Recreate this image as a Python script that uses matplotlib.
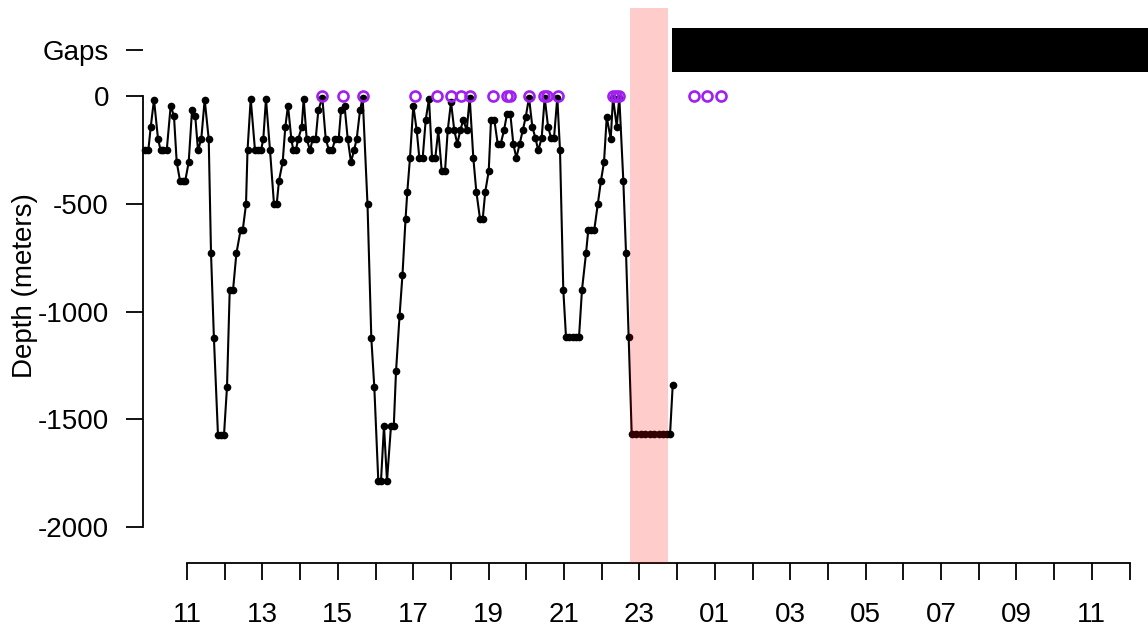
import matplotlib
matplotlib.use("Agg")
import matplotlib.pyplot as plt
from matplotlib.ticker import FixedLocator

plt.rcParams['font.family'] = ['Liberation Sans', 'DejaVu Sans']

# ---- data (hours since midnight of first day; >24 = next day) ----
time_h = [9.886, 9.974, 10.037, 10.125, 10.231, 10.302, 10.371, 10.462, 10.568, 10.655,
          10.727, 10.814, 10.886, 10.955, 11.045, 11.133, 11.22, 11.292, 11.379, 11.469,
          11.576, 11.637, 11.714, 11.822, 11.902, 11.981, 12.061, 12.133, 12.22, 12.31,
          12.424, 12.48, 12.565, 12.605, 12.69, 12.804, 12.875, 12.963, 13.024, 13.095,
          13.202, 13.308, 13.379, 13.44, 13.538, 13.607, 13.679, 13.767, 13.82, 13.883,
          13.952, 14.042, 14.095, 14.175, 14.263, 14.334, 14.414, 14.483, 14.589, 14.679,
          14.767, 14.846, 14.934, 15.024, 15.085, 15.178, 15.263, 15.35, 15.43, 15.501,
          15.589, 15.66, 15.788, 15.889, 15.968, 16.074, 16.146, 16.225, 16.305, 16.411,
          16.485, 16.544, 16.637, 16.716, 16.796, 16.844, 16.915, 17.003, 17.093, 17.162,
          17.252, 17.332, 17.419, 17.499, 17.586, 17.666, 17.756, 17.844, 17.915, 18.003,
          18.09, 18.17, 18.249, 18.329, 18.419, 18.499, 18.594, 18.674, 18.772, 18.844,
          18.912, 19.003, 19.064, 19.151, 19.241, 19.321, 19.408, 19.488, 19.576, 19.655,
          19.735, 19.825, 19.905, 19.984, 20.072, 20.159, 20.239, 20.318, 20.408, 20.488,
          20.576, 20.655, 20.735, 20.822, 20.894, 20.981, 21.053, 21.141, 21.231, 21.318,
          21.398, 21.477, 21.584, 21.645, 21.716, 21.804, 21.894, 21.981, 22.061, 22.133,
          22.239, 22.3, 22.398, 22.467, 22.573, 22.645, 22.716, 22.796, 22.91, 23.029,
          23.149, 23.268, 23.387, 23.507, 23.626, 23.732, 23.812, 23.883]

depth_m = [-251, -251, -143, -15, -197, -251, -251, -251, -42, -93,
           -305, -391, -391, -391, -305, -65, -93, -251, -197, -15,
           -197, -729, -1124, -1575, -1575, -1575, -1351, -902, -902, -730,
           -619, -619, -502, -251, -11, -251, -251, -251, -197, -11,
           -251, -502, -502, -391, -305, -143, -42, -197, -251, -251,
           -197, -143, -11, -197, -251, -197, -197, -65, -5, -197,
           -251, -251, -197, -197, -65, -42, -197, -305, -251, -197,
           -65, -5, -502, -1124, -1351, -1788, -1788, -1532, -1788, -1532,
           -1532, -1279, -1022, -828, -572, -442, -285, -42, -158, -285,
           -285, -108, -11, -285, -285, -158, -347, -347, -158, -26,
           -158, -220, -158, -108, -158, -5, -285, -442, -569, -569,
           -442, -347, -108, -108, -220, -220, -158, -81, -81, -220,
           -285, -220, -158, -96, -5, -140, -192, -251, -192, -5,
           -140, -192, -192, -5, -251, -899, -1119, -1119, -1119, -1119,
           -1119, -899, -729, -619, -619, -619, -502, -391, -305, -96,
           -197, -5, -140, -5, -391, -729, -1119, -1572, -1572, -1572,
           -1572, -1572, -1572, -1572, -1572, -1572, -1572, -1344]

surface_h = [14.589, 15.151, 15.66, 17.048, 17.64, 18.003, 18.268, 18.507, 19.109, 19.488,
             19.568, 20.072, 20.469, 20.536, 20.828, 22.3, 22.379, 22.467, 24.456, 24.785,
             25.164]
surface_depth = [0] * len(surface_h)

highlight_start, highlight_end = 22.751, 23.751
gap_start, gap_end = 23.873, 40.0
gap_row = 215
gap_half_height = 103

y_ticks = [gap_row, 0, -500, -1000, -1500, -2000]
y_labels = ["Gaps", "0", "-500", "-1000", "-1500", "-2000"]
x_ticks = list(range(11, 37))
x_labels = ["%02d" % (h % 24) if (h - 11) % 2 == 0 else "" for h in x_ticks]

# ---- figure ----
W, H, DPI = 1148, 633, 100
fig = plt.figure(figsize=(W / DPI, H / DPI), dpi=DPI)
ax = fig.add_axes([143 / W, (633 - 562.5) / H, 1005 / W, (562.5 - 8) / H])
ax.set_xlim(9.833, 36.49)
ax.set_ylim(-2167.4, 411.6)

ax.plot(time_h, depth_m, color='black', lw=1.5, marker='o', ms=4.5,
        mfc='black', mec='black', zorder=3, clip_on=False)
ax.plot(surface_h, surface_depth, ls='none', marker='o', ms=7.2, mfc='none',
        mec='#A020F0', mew=1.9, zorder=4, clip_on=False)
ax.axvspan(highlight_start, highlight_end, color='red', alpha=0.2, lw=0, zorder=5)
ax.fill_between([gap_start, gap_end], gap_row - gap_half_height,
                gap_row + gap_half_height, color='black', lw=0, zorder=5)

for s in ['top', 'right']:
    ax.spines[s].set_visible(False)
ax.spines['left'].set_bounds(-2000, 0)
ax.spines['bottom'].set_bounds(11, 36)
for s in ['left', 'bottom']:
    ax.spines[s].set_linewidth(1.3)

ax.yaxis.set_major_locator(FixedLocator(y_ticks))
ax.set_yticklabels(y_labels)
ax.xaxis.set_major_locator(FixedLocator(x_ticks))
ax.set_xticklabels(x_labels)
ax.tick_params(axis='both', direction='out', length=12.5, width=1.3,
               labelsize=20, pad=12)
ax.tick_params(axis='x', pad=16)

ax.set_ylabel("Depth (meters)", fontsize=20)
ax.yaxis.set_label_coords(-0.104, 0.5)

fig.savefig("out.png", dpi=DPI)
